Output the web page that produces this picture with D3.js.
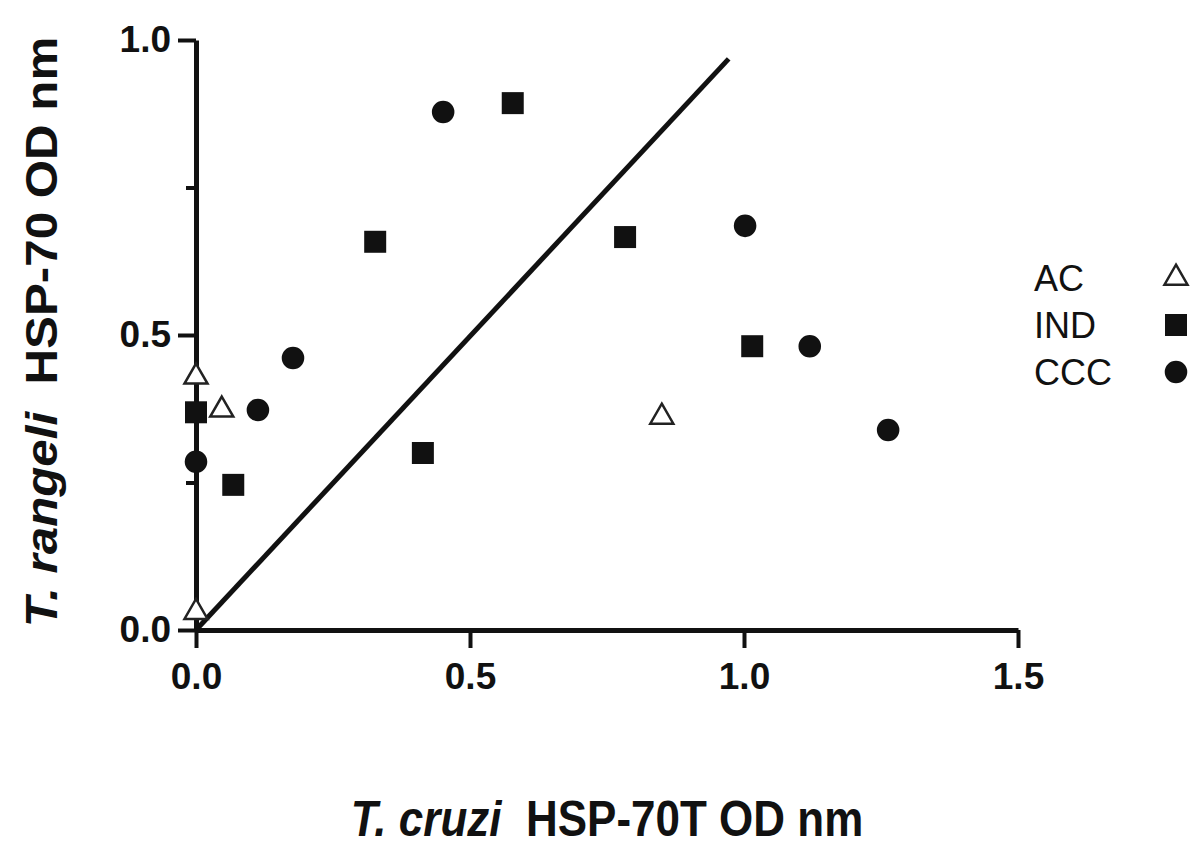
<!DOCTYPE html>
<html>
<head>
<meta charset="utf-8">
<script src="https://cdn.jsdelivr.net/npm/d3@7"></script>
<style>
    body { margin: 0; background: #fff; }
    svg text { font-family: "Liberation Sans", Arial, sans-serif; fill: #111; }
</style>
</head>
<body>
<div id="chart"></div>
<script>
// data (OD values)
const ac_x  = [0.0, 0.047, 0.85, 0.0];
const ac_y  = [0.429, 0.373, 0.361, 0.03];
const ind_x = [0.578, 0.327, 0.783, 1.015, 0.414, 0.068, 0.0];
const ind_y = [0.893, 0.658, 0.666, 0.481, 0.30, 0.246, 0.369];
const ccc_x = [0.451, 0.177, 0.113, 0.0, 1.002, 1.12, 1.263];
const ccc_y = [0.878, 0.461, 0.373, 0.285, 0.685, 0.481, 0.339];
const line_pts = [[0, 0], [0.972, 0.968]];

const x_ticks = [0, 0.5, 1.0, 1.5];
const y_ticks = [0, 0.5, 1.0];
const y_minor = [0.25, 0.75];
const groups = ["AC", "IND", "CCC"];

// svg
const width = 1200, height = 853;
const svg = d3.select("#chart")
    .append("svg")
    .attr("width", width)
    .attr("height", height);

// scales
const x = d3.scaleLinear().domain([0, 1.5]).range([196, 1018]);
const y = d3.scaleLinear().domain([0, 1]).range([630, 40]);

// diagonal line
svg.append("path")
    .datum(line_pts)
    .attr("d", d3.line().x(d => x(d[0])).y(d => y(d[1])))
    .attr("fill", "none")
    .attr("stroke", "#111")
    .attr("stroke-width", 5);

// x axis
const x_axis = svg.append("g")
    .attr("transform", "translate(0," + y(0) + ")")
    .call(d3.axisBottom(x).tickValues(x_ticks).tickFormat(d3.format(".1f"))
        .tickSize(18).tickSizeOuter(0).tickPadding(15));
x_axis.select(".domain").attr("stroke-width", 5).attr("stroke", "#111");
x_axis.selectAll(".tick line").attr("stroke-width", 4).attr("stroke", "#111");
x_axis.selectAll("text").attr("font-size", "37px").attr("font-weight", "bold");

// y axis
const y_axis = svg.append("g")
    .attr("transform", "translate(" + x(0) + ",0)")
    .call(d3.axisLeft(y).tickValues(y_ticks).tickFormat(d3.format(".1f"))
        .tickSize(18).tickSizeOuter(0).tickPadding(7));
y_axis.select(".domain").attr("stroke-width", 5).attr("stroke", "#111");
y_axis.selectAll(".tick line").attr("stroke-width", 4).attr("stroke", "#111");
y_axis.selectAll("text").attr("font-size", "37px").attr("font-weight", "bold");

// minor y ticks
svg.append("g")
    .attr("transform", "translate(" + x(0) + ",0)")
    .call(d3.axisLeft(y).tickValues(y_minor).tickFormat("").tickSize(10).tickSizeOuter(0))
    .call(g => g.select(".domain").remove())
    .selectAll(".tick line").attr("stroke-width", 4).attr("stroke", "#111");

// points
const sym = {
    AC: d3.symbol().type(d3.symbolTriangle).size(230),
    IND: d3.symbol().type(d3.symbolSquare).size(484),
    CCC: d3.symbol().type(d3.symbolCircle).size(400)
};
const series = [
    {group: "AC", xs: ac_x, ys: ac_y},
    {group: "IND", xs: ind_x, ys: ind_y},
    {group: "CCC", xs: ccc_x, ys: ccc_y}
];

function style_symbol(sel, group) {
    if (group == "AC") {
        sel.attr("fill", "#fff").attr("stroke", "#222").attr("stroke-width", 2.5);
    } else {
        sel.attr("fill", "#111");
    }
}

series.forEach(s => {
    const pts = s.xs.map((v, i) => ({x: v, y: s.ys[i]}));
    svg.append("g").selectAll("path")
        .data(pts)
        .enter()
        .append("path")
        .attr("d", sym[s.group]())
        .attr("transform", d => "translate(" + x(d.x) + "," + y(d.y) + ")")
        .call(style_symbol, s.group);
});

// legend
const legend = svg.append("g").selectAll("g")
    .data(groups)
    .enter()
    .append("g")
    .attr("transform", (d, i) => "translate(0," + (278 + i * 47) + ")");

legend.append("text")
    .attr("x", 1034)
    .attr("y", 0)
    .attr("dy", "0.36em")
    .attr("font-size", "36px")
    .text(d => d);

legend.append("path")
    .attr("d", d => sym[d]())
    .attr("transform", "translate(1176,0)")
    .each(function(d) { d3.select(this).call(style_symbol, d); });

// axis titles (the scan is a little stretched vertically)
const x_title = svg.append("text")
    .attr("transform", "translate(" + (x(0) + x(1.5)) / 2 + ",836) scale(1,1.12)")
    .attr("text-anchor", "middle")
    .attr("font-size", "44px")
    .attr("font-weight", "bold");
x_title.append("tspan").attr("font-style", "italic").text("T. cruzi");
x_title.append("tspan").text("\u00a0 HSP-70T OD nm");

const y_title = svg.append("text")
    .attr("transform", "translate(57,332) rotate(-90) scale(1.12,1)")
    .attr("text-anchor", "middle")
    .attr("font-size", "44px")
    .attr("font-weight", "bold");
y_title.append("tspan").attr("font-style", "italic").text("T. rangeli");
y_title.append("tspan").text("\u00a0 HSP-70 OD nm");
</script>
</body>
</html>
